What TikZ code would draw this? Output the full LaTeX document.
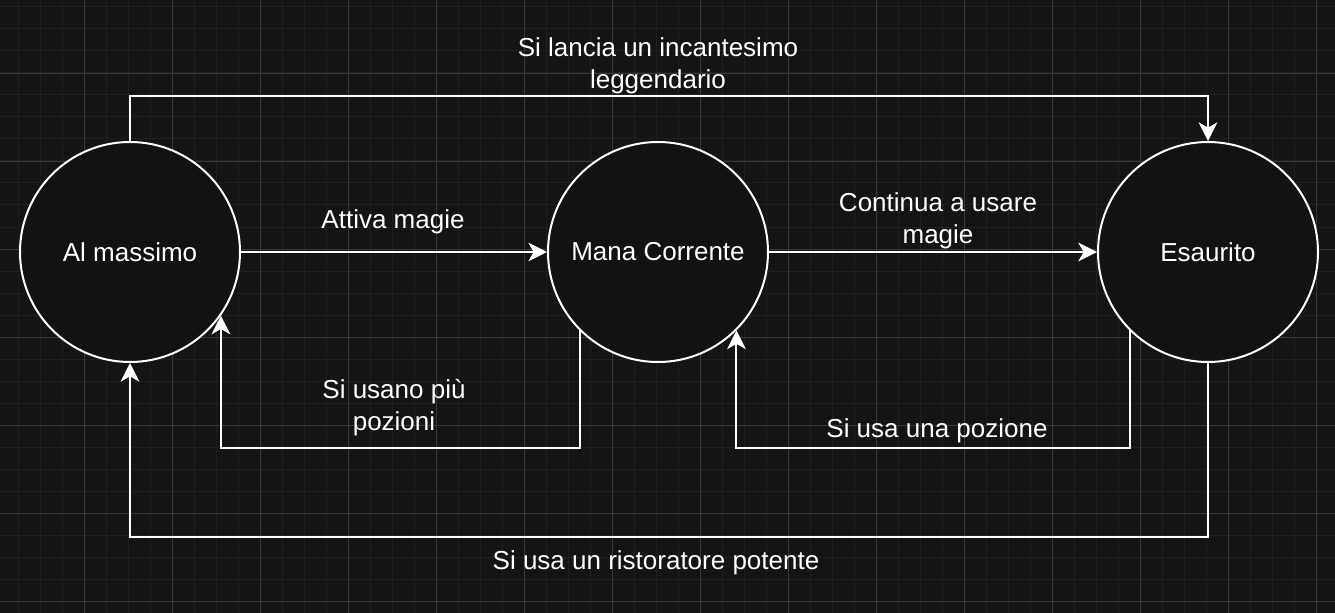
\documentclass[tikz,border=0pt]{standalone}
\usepackage{fontspec}
\setmainfont{Liberation Sans}
\usetikzlibrary{positioning, arrows.meta}
\definecolor{bgdark}{HTML}{141414}
\definecolor{gridminor}{HTML}{1F1F1F}
\definecolor{gridmajor}{HTML}{3A3A3A}
\definecolor{statefill}{HTML}{121212}
\tikzstyle{state} = [circle, minimum size=165pt, inner sep=0pt, draw=white, line width=1.5pt, fill=statefill, text=white, font=\fontsize{19.5}{24}\selectfont]
\tikzstyle{edgetext} = [text=white, align=center, inner sep=0pt, font=\fontsize{19.5}{24}\selectfont]
\tikzstyle{arrow} = [draw=white, line width=1.5pt, -{Stealth[length=14pt, width=14pt, inset=4pt]}]

\begin{document}
\begin{tikzpicture}[x=0.75pt, y=-0.75pt]
        % sfondo e griglia
        \fill[bgdark] (0,0) rectangle (1335,613);
        \useasboundingbox (0,0) rectangle (1335,613);
        \foreach \x in {18,40,...,1334} \draw[gridminor, line width=0.75pt] (\x,0) -- (\x,613);
        \foreach \y in {7,29,...,612} \draw[gridminor, line width=0.75pt] (0,\y) -- (1335,\y);
        \foreach \x in {84,172,...,1334} \draw[gridmajor, line width=0.5pt] (\x,0) -- (\x,613);
        \foreach \y in {73,161,...,612} \draw[gridmajor, line width=0.5pt] (0,\y) -- (1335,\y);

        \node[state]                      (max) at (130,252) {Al massimo};
        \node[state, right=229.5pt of max] (cur)              {Mana Corrente};
        \node[state, right=246pt of cur]  (esa)              {Esaurito};

        \draw[arrow] (max.north) -- ++(0,-45) -| (esa.north);
        \draw[arrow] (max.east) -- (cur.west);
        \draw[arrow] (cur.east) -- (esa.west);
        \draw[arrow] (cur.south west) -- ++(0,118) -| (max.-35);
        \draw[arrow] (esa.south west) -- ++(0,118) -| (cur.south east);
        \draw[arrow] (esa.south) -- ++(0,174) -| (max.south);

        \node[edgetext] (t1) at (658,66)  {Si lancia un incantesimo\\leggendario};
        \node[edgetext] (t2) at (393,222) {Attiva magie};
        \node[edgetext] (t3) at (938,221) {Continua a usare\\magie};
        \node[edgetext] (t4) at (394,408) {Si usano più\\pozioni};
        \node[edgetext] (t5) at (937,431) {Si usa una pozione};
        \node[edgetext] (t6) at (656,563) {Si usa un ristoratore potente};
    \end{tikzpicture}
\end{document}
